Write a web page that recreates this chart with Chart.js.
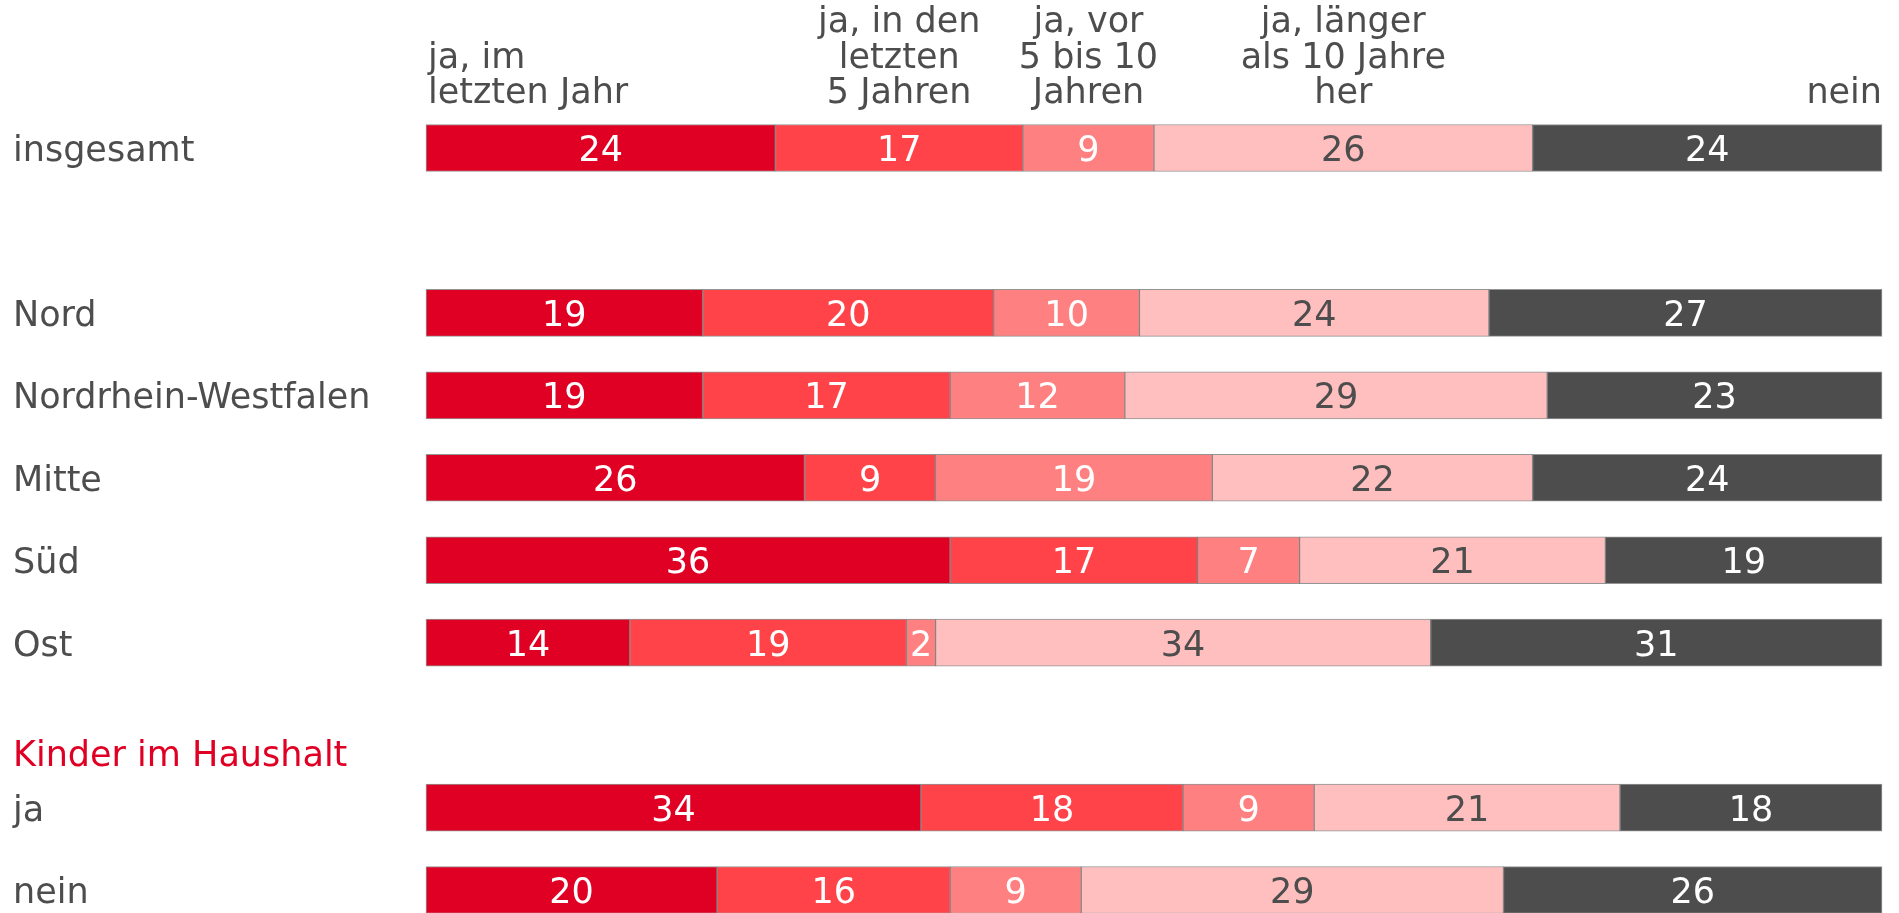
<!DOCTYPE html>
<html>
<head>
<meta charset="utf-8">
<script src="https://cdn.jsdelivr.net/npm/chart.js@4/dist/chart.umd.min.js"></script>
<style>
  body { margin: 0; background: #fff; }
  .wrap { width: 1899px; height: 913px; }
</style>
</head>
<body>
<div class="wrap"><canvas id="chart"></canvas></div>
<script>
const rowLabels = ['insgesamt', '', 'Nord', 'Nordrhein-Westfalen', 'Mitte', 'Süd', 'Ost', 'Kinder im Haushalt', 'ja', 'nein'];
const seriesNames = [
    ['ja, im', 'letzten Jahr'],
    ['ja, in den', 'letzten', '5 Jahren'],
    ['ja, vor', '5 bis 10', 'Jahren'],
    ['ja, länger', 'als 10 Jahre', 'her'],
    ['nein']
];
const imLetztenJahr = [24, null, 19, 19, 26, 36, 14, null, 34, 20];
const letzte5Jahre  = [17, null, 20, 17,  9, 17, 19, null, 18, 16];
const vor5bis10     = [ 9, null, 10, 12, 19,  7,  2, null,  9,  9];
const laenger10     = [26, null, 24, 29, 22, 21, 34, null, 21, 29];
const nein          = [24, null, 27, 23, 24, 19, 31, null, 18, 26];
const colors = ['#e00024', '#ff4349', '#ff8080', '#ffbfbf', '#4d4d4d'];
const valueColors = ['#ffffff', '#ffffff', '#ffffff', '#4d4d4d', '#ffffff'];
const groupHeading = 'Kinder im Haushalt';

const FONT = '"DejaVu Sans", Verdana, sans-serif';
const FONT_SIZE = 35;
const textGray = '#4d4d4d';

const allSeries = [imLetztenJahr, letzte5Jahre, vor5bis10, laenger10, nein];

// row names, numbers inside the segments, headers above the first bar
const labelsPlugin = {
    id: 'labels',
    afterDatasetsDraw(chart) {
        const ctx = chart.ctx;
        const xs = chart.scales.x;
        const ys = chart.scales.y;
        ctx.save();
        ctx.font = FONT_SIZE + 'px ' + FONT;
        ctx.textBaseline = 'middle';

        // row names (left aligned at the y axis' left edge)
        ctx.textAlign = 'left';
        rowLabels.forEach((l, i) => {
            if (!l) return;
            const heading = l === groupHeading;
            ctx.fillStyle = heading ? '#e00024' : textGray;
            ctx.fillText(l, ys.left, ys.getPixelForValue(i) + (heading ? 32 : 4));
        });

        ctx.textAlign = 'center';
        chart.data.datasets.forEach((ds, i) => {
            const meta = chart.getDatasetMeta(i);
            meta.data.forEach((bar, j) => {
                const v = ds.data[j];
                if (v == null) return;
                const c = bar.getCenterPoint();
                ctx.fillStyle = valueColors[i];
                ctx.fillText(String(v), c.x, c.y + 4);
            });
        });

        // series headers over the "insgesamt" bar
        const lineH = 35.5;
        const baseY = ys.getPixelForValue(0) - 54;
        let cum = 0;
        seriesNames.forEach((lines, i) => {
            const v = allSeries[i][0];
            let x, align;
            if (i === 0) { x = xs.getPixelForValue(0) + 2; align = 'left'; }
            else if (i === seriesNames.length - 1) { x = xs.getPixelForValue(100); align = 'right'; }
            else { x = xs.getPixelForValue(cum + v / 2); align = 'center'; }
            cum += v;
            ctx.textAlign = align;
            ctx.fillStyle = textGray;
            lines.forEach((t, k) => {
                ctx.fillText(t, x, baseY - (lines.length - 1 - k) * lineH);
            });
        });
        ctx.restore();
    }
};

new Chart(document.getElementById('chart'), {
    type: 'bar',
    data: {
        labels: rowLabels,
        datasets: allSeries.map((d, i) => ({
            label: seriesNames[i].join(' '),
            data: d,
            backgroundColor: colors[i],
            borderColor: 'rgba(60,60,60,0.55)',
            borderWidth: 1,
            borderSkipped: false,
            barThickness: 47,
            clip: false
        }))
    },
    options: {
        indexAxis: 'y',
        responsive: true,
        maintainAspectRatio: false,
        animation: false,
        layout: { padding: { left: 13, right: 17, top: 148, bottom: 23 } },
        plugins: {
            legend: { display: false },
            tooltip: { enabled: false }
        },
        scales: {
            x: {
                stacked: true,
                min: 0,
                max: 100,
                display: false
            },
            y: {
                stacked: true,
                offset: false,
                grid: { display: false },
                border: { display: false },
                afterFit(scale) { scale.width = 413; },
                ticks: {
                    // names are drawn by the plugin, slightly below the row centre
                    callback() { return ''; }
                }
            }
        }
    },
    plugins: [labelsPlugin]
});
</script>
</body>
</html>
